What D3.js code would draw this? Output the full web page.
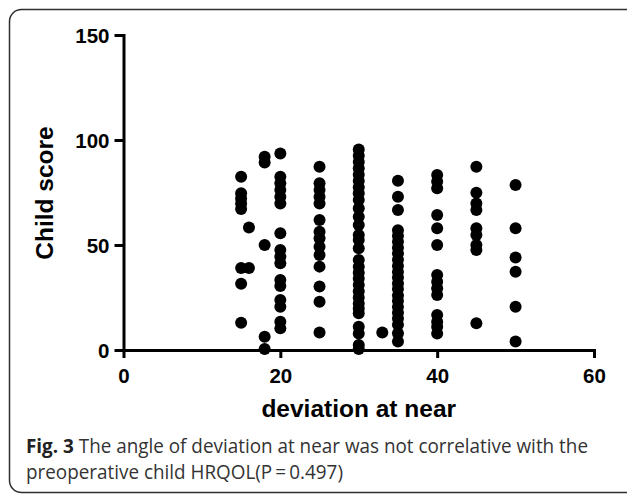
<!DOCTYPE html>
<html lang="en">
	<head>
		<meta charset="utf-8">
		<title>Fig. 3 deviation at near vs child score</title>
		<script type="text/javascript" src="https://cdn.jsdelivr.net/npm/d3@7"></script>
		<style type="text/css">
			body{
				margin:0;
				background:#ffffff;
			}
			svg text{
				font-family: "Liberation Sans", Arial, sans-serif;
			}
			.caption{
				font-family: "Open Sans", "Noto Sans", sans-serif !important;
			}
		</style>
	</head>
	<body>
		<div id="chart"></div>
		<script type="text/javascript">

			// deviation at near (x) for each column of dots
			var deviations = [15, 16, 18, 20, 25, 30, 33, 35, 40, 45, 50];

			// child scores
			var scores15 = [82.5, 74.6, 72.2, 69.8, 67.1, 39, 31.5, 13];
			var scores16 = [58.3, 39];
			var scores18 = [92, 89.3, 50, 6.3, 0.5];
			var scores20 = [93.6, 82.5, 79.4, 76.2, 73, 69.8, 55.6, 47.6, 44.4, 41.3, 33.3, 30.5, 23.8, 20.6, 13.5, 10.3];
			var scores25 = [87.3, 79.4, 76.2, 73, 69.8, 61.9, 56.3, 53.2, 49.2, 45.2, 39.7, 30.2, 23, 8.3];
			var scores30 = [95.5, 92.5, 89.5, 86.5, 83.5, 80.5, 77.5, 74.6, 71.4, 67.5, 63.5, 59.5, 54.8, 52.4, 48.4, 42.9, 39.7, 36.8, 34, 31, 28, 25, 22.2, 19.8, 17.5, 11.1, 7.9, 2.4, 0.5];
			var scores33 = [8.3];
			var scores35 = [80.6, 73, 66.7, 57, 54.3, 51.5, 48.7, 46, 43, 40, 37.2, 34.5, 31.7, 29, 26, 23.3, 20.5, 17.7, 15, 12, 8, 4];
			var scores40 = [83.3, 80.2, 77, 64.3, 58, 50, 35.7, 32.5, 29.4, 26.2, 16.7, 13.5, 11.1, 7.9];
			var scores45 = [87.3, 74.9, 69.8, 66.7, 58, 54.8, 50, 47.6, 12.7];
			var scores50 = [78.6, 58, 44, 37.3, 20.6, 4];

			var scoreColumns = [scores15, scores16, scores18, scores20, scores25, scores30, scores33, scores35, scores40, scores45, scores50];

			var xTicks = [0, 20, 40, 60];
			var yTicks = [0, 50, 100, 150];

			var w = 627;
			var h = 494;

			// flatten to points
			var points = []
			for(var c in deviations){
				var col = scoreColumns[c]
				for(var k in col){
					points.push({dev: deviations[c], score: col[k]})
				}
			}

			var svg = d3.select("#chart")
				.append("svg")
				.attr("width", w)
				.attr("height", h);

			// frame with rounded corners (right side runs off the picture)
			svg.append("rect")
				.attr("x", 9.5)
				.attr("y", 9.5)
				.attr("width", 660)
				.attr("height", 483)
				.attr("rx", 12)
				.attr("fill", "none")
				.attr("stroke", "#2e2e2e")
				.attr("stroke-width", 1.5);

			var xScale = d3.scaleLinear()
				.domain([0, 60])
				.range([123.5, 594]);

			var yScale = d3.scaleLinear()
				.domain([0, 150])
				.range([350, 35]);

			var xAxis = d3.axisBottom(xScale)
				.tickValues(xTicks)
				.tickSize(8)
				.tickPadding(10)
				.tickSizeOuter(0);

			var yAxis = d3.axisLeft(yScale)
				.tickValues(yTicks)
				.tickSize(9)
				.tickPadding(5)
				.tickSizeOuter(0);

			var gx = svg.append("g")
				.attr("transform", "translate(0," + yScale(0) + ")")
				.call(xAxis);

			var gy = svg.append("g")
				.attr("transform", "translate(" + xScale(0) + ",0)")
				.call(yAxis);

			svg.selectAll(".domain, .tick line")
				.attr("stroke", "#000")
				.attr("stroke-width", 3);

			svg.selectAll(".domain").attr("stroke-linecap", "square");

			gx.selectAll(".tick text")
				.attr("font-size", "20.5px")
				.attr("font-weight", "bold")
				.attr("fill", "#000")
				.attr("dy", "0.71em");

			gy.selectAll(".tick text")
				.attr("font-size", "20.5px")
				.attr("font-weight", "bold")
				.attr("fill", "#000")
				.attr("dy", "0.36em");

			// dots
			svg.selectAll("circle.dot")
				.data(points)
				.enter()
				.append("circle")
				.attr("class", "dot")
				.attr("cx", function(d){ return xScale(d.dev) })
				.attr("cy", function(d){ return yScale(d.score) })
				.attr("r", 6)
				.attr("fill", "#000");

			// axis titles
			svg.append("text")
				.text("deviation at near")
				.attr("x", (xScale(0) + xScale(60)) / 2)
				.attr("y", 417)
				.attr("text-anchor", "middle")
				.attr("font-size", "24.5px")
				.attr("font-weight", "bold")
				.attr("fill", "#000");

			svg.append("text")
				.text("Child score")
				.attr("transform", "translate(53,193) rotate(-90)")
				.attr("text-anchor", "middle")
				.attr("font-size", "24.5px")
				.attr("font-weight", "bold")
				.attr("fill", "#000");

			// caption
			var line1 = svg.append("text")
				.attr("class", "caption")
				.attr("x", 26)
				.attr("y", 453)
				.attr("font-size", "19.5px")
				.attr("fill", "#333");
			line1.append("tspan")
				.text("Fig. 3")
				.attr("font-weight", "bold")
				.attr("fill", "#222");
			line1.append("tspan")
				.text(" The angle of deviation at near was not correlative with the");

			var line2 = svg.append("text")
				.attr("class", "caption")
				.attr("x", 26)
				.attr("y", 479)
				.attr("font-size", "19.5px")
				.attr("fill", "#333")
				.text("preoperative child HRQOL(P\u2009=\u20090.497)");

			// squeeze the caption to the width it takes in the figure
			var len1 = line1.node().getComputedTextLength();
			if(len1 > 562){
				line1.attr("textLength", 562).attr("lengthAdjust", "spacingAndGlyphs");
				var len2 = line2.node().getComputedTextLength();
				line2.attr("textLength", len2 * 562 / len1).attr("lengthAdjust", "spacingAndGlyphs");
			}

		</script>
	</body>
</html>
